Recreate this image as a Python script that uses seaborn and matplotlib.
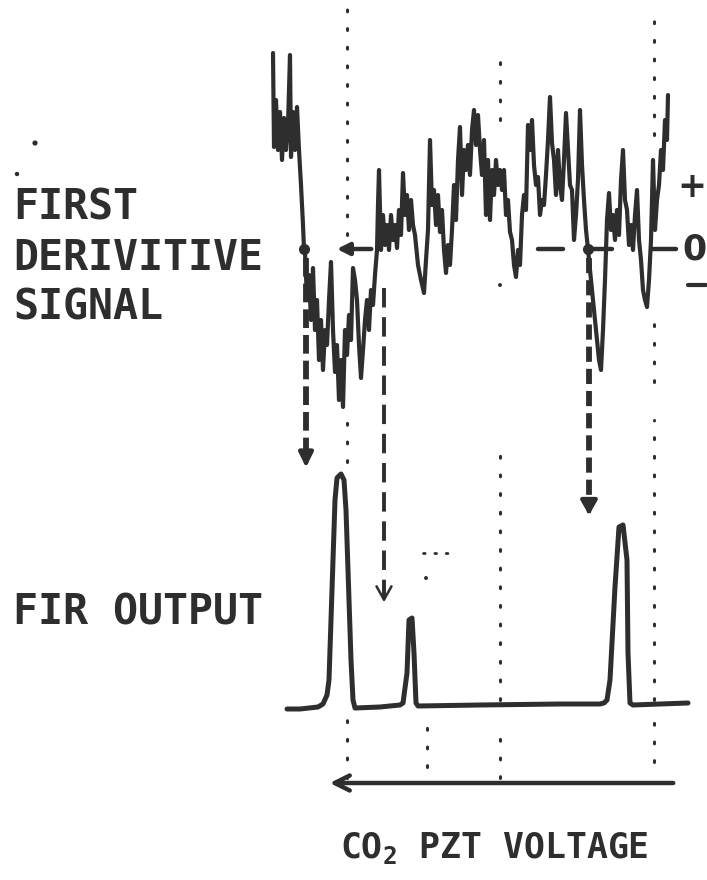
import matplotlib
matplotlib.use("Agg")
import matplotlib.pyplot as plt
import numpy as np
import pandas as pd
import seaborn as sns

# ---------------- data ----------------
# x: CO2 PZT voltage (arbitrary scan units)
# first-derivative signal amplitude (0 = zero line, + up)
deriv_x = [273, 274, 276, 278, 280, 282, 284, 286, 288, 290, 291, 293, 295, 297, 299, 301, 303, 304,
           305, 307, 309, 311, 313, 315, 317, 319, 321, 323, 325, 327, 329, 331, 333, 335, 337, 339,
           341, 343, 345, 347, 349, 351, 353, 355, 357, 359, 361, 363, 365, 367, 369, 371, 373, 375,
           377, 378, 379,
           381, 383, 385, 387, 389, 391, 393, 395, 397, 399, 401, 403, 405, 407, 409, 411, 413, 415,
           418, 421, 424, 426, 428, 430, 432, 434, 436, 438, 440, 442, 444, 446, 448, 450, 452, 454,
           456, 458, 460, 462, 464, 466, 468, 470, 472, 474, 476, 478, 480, 482, 484, 486, 488, 490,
           492, 494, 496, 498, 500, 502, 504, 506, 508, 510, 512, 514, 516, 518, 520, 522, 524, 526,
           528, 530, 532, 534, 536, 538, 540, 542, 544, 546, 548, 550, 552, 554, 556, 558, 560, 562,
           564, 566, 568, 570, 572, 574, 576, 578, 580, 582, 584, 586, 588,
           590, 593, 596, 599, 601, 603, 605, 607, 609, 611, 613, 615, 617, 619, 621, 623, 625, 627,
           629, 631, 633, 635, 637, 639, 641, 643, 645, 647, 649, 651, 653, 655, 657, 659, 661, 663,
           665, 667, 668]
deriv_amp = [196, 102, 149, 99, 137, 89, 131, 99, 124, 194, 92, 137, 99, 142, 99, 64, 24, 0,
             -3, -51, -26, -71, -19, -81, -51, -111, -71, -121, -81, -96, -51, -13, -81, -123, -96, -151,
             -111, -158, -81, -106, -66, -91, -19, -31, -51, -96, -129, -101, -71, -51, -81, -41, -56, -26,
             -1, 44, 79,
             -1, 34, 4, 24, -1, 34, 9, 24, 1, 39, 14, 76, 34, 54, 19, 49, 24, 14,
             -16, -31, -44, -11, 19, 109, 44, 59, 24, 54, 17, 39, -1, -24, 4, -16, 19, 64,
             29, 89, 122, 54, 99, 79, 104, 74, 119, 139, 104, 134, 99, 74, 109, 34, 89, 29,
             79, 54, 89, 64, 79, 59, 79, 34, 49, 17, 9, -16, -28, -1, -16, 34, 54, 39,
             124, 99, 129, 84, 64, 72, 34, 49, 44, 74, 109, 152, 106, 89, 54, 99, 64, 49,
             89, 136, 99, 64, 59, 9, 34, 69, 139, 84, 49, 19, 0,
             -21, -51, -81, -111, -121, -81, -31, 29, 56, 19, 34, 9, 39, 14, 69, 99, 49, 39,
             4, 24, -1, 34, 59, 9, -11, -41, -51, -58, -31, 9, 89, 19, 49, 64, 99, 79,
             129, 109, 154]

# FIR filter output amplitude (0 = baseline)
fir_x = [287, 300, 318, 323, 327, 329, 332, 335, 337, 341, 344, 346, 349, 351, 353, 355,
         380, 400, 403, 407, 409, 412, 414, 416, 418,
         480, 560, 600, 604, 607, 610, 615, 619, 623, 627, 628, 630, 633, 660, 688]
fir_amp = [-2, -2, 0, 3, 12, 27, 117, 207, 229, 233, 227, 197, 107, 47, 7, -1,
           0, 2, 4, 34, 87, 89, 54, 4, 1,
           2, 3, 3, 4, 7, 27, 120, 180, 182, 147, 54, 4, 2, 3, 4]

crossing_x = [304, 588]                 # zero crossings of the derivative
arrow_x = [306, 384, 589]               # derivative -> FIR output arrows
arrow_top = [622, 592, 622]
arrow_end = [410, 275, 362]

labels_left = ["FIRST", "DERIVITIVE", "SIGNAL"]
label_fir = "FIR OUTPUT"
label_x = r"$\mathregular{CO_2}$ PZT VOLTAGE"

# ---------------- layout ----------------
W, H = 707, 880
DERIV_ZERO = 631
FIR_BASE = 173
INK = "#2e2e2e"

sns.set_theme(style="white")
plt.rcParams["font.family"] = ["DejaVu Sans Mono", "DejaVu Sans"]
plt.rcParams["mathtext.default"] = "regular"

fig = plt.figure(figsize=(W / 100, H / 100), dpi=100)
ax = fig.add_axes([0, 0, 1, 1])
ax.set_xlim(0, W)
ax.set_ylim(0, H)
ax.axis("off")

dfd = pd.DataFrame({"v": deriv_x, "y": np.array(deriv_amp) + DERIV_ZERO})
dff = pd.DataFrame({"v": fir_x, "y": np.array(fir_amp) + FIR_BASE})

# guide dotted verticals
guides = [(347, 645, 872), (347, 418, 460), (347, 102, 168),
          (500, 760, 818), (500, 180, 433), (500, 102, 142),
          (654, 745, 875), (654, 498, 560), (654, 180, 460), (654, 118, 168),
          (427, 113, 153)]
for gx, y0, y1 in guides:
    ax.plot([gx, gx], [y0, y1], color=INK, lw=2.2, dashes=(0.6, 5.5),
            dash_capstyle="round")
ax.plot([423, 448], [327, 327], color=INK, lw=2, dashes=(0.6, 3.5), dash_capstyle="round")
ax.scatter([35, 17, 426, 500], [737, 706, 302, 595], s=[14, 10, 8, 8], color=INK, lw=0)

# traces
sns.lineplot(data=dfd, x="v", y="y", sort=False, estimator=None, ax=ax,
             color=INK, lw=3.0)
sns.lineplot(data=dff, x="v", y="y", sort=False, estimator=None, ax=ax,
             color=INK, lw=3.6)

# zero crossings
ax.plot(crossing_x, [DERIV_ZERO] * len(crossing_x), "o", color=INK, ms=7)

# zero-line marks
for x0, x1 in [(538, 563), (590, 612), (652, 676)]:
    ax.plot([x0, x1], [DERIV_ZERO, DERIV_ZERO], color=INK, lw=3.2, solid_capstyle="round")
ax.annotate("", xy=(334, DERIV_ZERO), xytext=(374, DERIV_ZERO),
            arrowprops=dict(arrowstyle="-|>,head_length=0.6,head_width=0.3", color=INK, lw=3.2))

# dashed arrows from derivative to FIR output
styles = [dict(lw=4.2, dashes=(3.2, 1.2), head="-|>,head_length=0.7,head_width=0.35"),
          dict(lw=2.8, dashes=(5, 2.5), head="->,head_length=0.8,head_width=0.45"),
          dict(lw=4.2, dashes=(2.6, 1.2), head="-|>,head_length=0.7,head_width=0.4")]
for xa, yt, ye, st in zip(arrow_x, arrow_top, arrow_end, styles):
    ax.plot([xa, xa], [yt, ye + 10], color=INK, lw=st["lw"], dashes=st["dashes"])
    ax.annotate("", xy=(xa, ye), xytext=(xa, ye + 14),
                arrowprops=dict(arrowstyle=st["head"], color=INK, lw=st["lw"] - 1))

# voltage sweep arrow
ax.annotate("", xy=(327, 97), xytext=(676, 97),
            arrowprops=dict(arrowstyle="->,head_length=0.9,head_width=0.45", color=INK, lw=3.2))

# text
for lab, yy in zip(labels_left, [673, 622, 573]):
    ax.text(13, yy, lab, fontsize=30, fontweight="bold", color=INK, ha="left", va="center")
ax.text(13, 268, label_fir, fontsize=30, fontweight="bold", color=INK, ha="left", va="center")
ax.text(340, 32, label_x, fontsize=25, fontweight="bold", color=INK, ha="left", va="center")
ax.text(706, 693, "+", fontsize=25, fontweight="bold", color=INK, ha="right", va="center",
        family=["DejaVu Sans"])
ax.text(706, 631, "0", fontsize=25, fontweight="bold", color=INK, ha="right", va="center",
        family=["DejaVu Sans"])
ax.plot([688, 706], [595, 595], color=INK, lw=3, solid_capstyle="round")

fig.savefig("out.png", dpi=100, facecolor="white")
